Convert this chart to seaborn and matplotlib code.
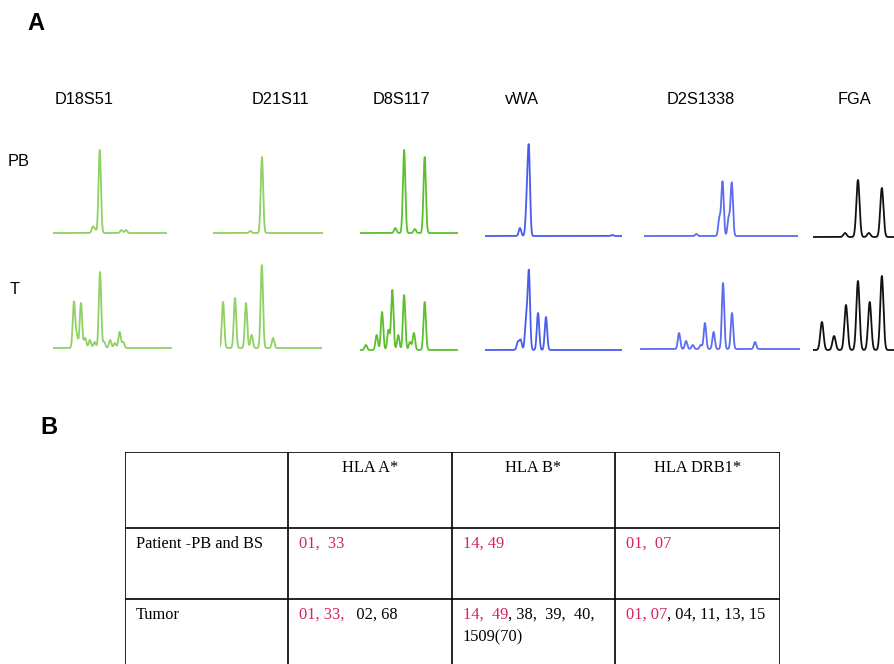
import numpy as np
import pandas as pd
import matplotlib
matplotlib.use("Agg")
import matplotlib.pyplot as plt
import seaborn as sns

# ---- data (peak position in % of trace width, height in px-like units)
LOCI = ["D18S51", "D21S11", "D8S117", "vWA", "D2S1338", "FGA"]
SAMPLES = ["PB", "T"]

d18s51_pb_pos = [35, 37, 41, 60, 64]
d18s51_pb_ht = [6, 3, 83, 3, 3]
d18s51_t_pos = [17.6, 20, 23.5, 27, 31, 35, 39.5, 43, 48, 52, 56, 59]
d18s51_t_ht = [46, 12, 45, 10, 8, 6, 76, 6, 8, 5, 16, 6]

d21s11_pb_pos = [34, 44.5]
d21s11_pb_ht = [2, 76]
d21s11_t_pos = [3, 14.7, 25.5, 31, 41, 52]
d21s11_t_ht = [46, 50, 45, 13, 83, 10]

d8s117_pb_pos = [36, 45, 56, 66]
d8s117_pb_ht = [5, 83, 4, 76]
d8s117_t_pos = [6, 17, 22.5, 29, 33, 39, 45, 51, 55, 66]
d8s117_t_ht = [5, 15, 38, 20, 60, 15, 55, 8, 17, 48]

vwa_pb_pos = [25.5, 30.5, 32, 93]
vwa_pb_ht = [8, 30, 84, 1]
vwa_t_pos = [24, 26, 30, 32, 38.7, 44.5]
vwa_t_ht = [8, 10, 30, 78, 37, 33]

d2s1338_pb_pos = [34, 49, 51, 55, 57]
d2s1338_pb_ht = [2, 18, 54, 18, 53]
d2s1338_t_pos = [24.4, 28.8, 33, 38, 40.6, 46, 51.9, 57.5, 71.9]
d2s1338_t_ht = [16, 8, 4, 4, 26, 17, 66, 36, 7]

fga_pb_pos = [39.5, 55.5, 69, 85]
fga_pb_ht = [4, 57, 4, 49]
fga_t_pos = [11, 26, 40.7, 55.5, 70, 85]
fga_t_ht = [28, 14, 45, 69, 48, 74]

PEAKS = {
    ("D18S51", "PB"): (d18s51_pb_pos, d18s51_pb_ht), ("D18S51", "T"): (d18s51_t_pos, d18s51_t_ht),
    ("D21S11", "PB"): (d21s11_pb_pos, d21s11_pb_ht), ("D21S11", "T"): (d21s11_t_pos, d21s11_t_ht),
    ("D8S117", "PB"): (d8s117_pb_pos, d8s117_pb_ht), ("D8S117", "T"): (d8s117_t_pos, d8s117_t_ht),
    ("vWA", "PB"): (vwa_pb_pos, vwa_pb_ht), ("vWA", "T"): (vwa_t_pos, vwa_t_ht),
    ("D2S1338", "PB"): (d2s1338_pb_pos, d2s1338_pb_ht), ("D2S1338", "T"): (d2s1338_t_pos, d2s1338_t_ht),
    ("FGA", "PB"): (fga_pb_pos, fga_pb_ht), ("FGA", "T"): (fga_t_pos, fga_t_ht),
}

# ---- HLA table
HLA_HEADERS = ["HLA A*", "HLA B*", "HLA DRB1*"]
ROW_LABELS = ["Patient -PB and BS", "Tumor"]
PATIENT_ALLELES = ["01,  33", "14, 49", "01,  07"]
TUMOR_SHARED = ["01, 33,", "14,  49", "01, 07"]
TUMOR_EXTRA = ["   02, 68", ", 38,  39,  40,", ", 04, 11, 13, 15"]
TUMOR_EXTRA_LINE2 = ["", "1509(70)", ""]

# ---- layout / style (pixels of the 894x664 canvas)
W, H = 894, 664
TRACE_X = {"D18S51": [(53, 167), (53, 172)], "D21S11": [(213, 323), (220, 322)],
           "D8S117": [(360, 458), (360, 458)], "vWA": [(485, 622), (485, 622)],
           "D2S1338": [(644, 798), (640, 800)], "FGA": [(813, 894), (813, 894)]}
BASELINE = {"D18S51": [233, 348], "D21S11": [233, 348], "D8S117": [233, 350],
            "vWA": [236, 350], "D2S1338": [236, 349], "FGA": [237, 350]}
SIGMA_PX = {"D18S51": 1.2, "D21S11": 1.2, "D8S117": 1.2, "vWA": 1.2, "D2S1338": 1.2, "FGA": 1.6}
COLORS = {"D18S51": "#8fd163", "D21S11": "#8fd163", "D8S117": "#5cc02e",
          "vWA": "#4a5cef", "D2S1338": "#5a6cf0", "FGA": "#111111"}
LABEL_X = {"D18S51": 55, "D21S11": 252, "D8S117": 373, "vWA": 505, "D2S1338": 667, "FGA": 838}
RED = "#d8235a"

sns.set_style("white")
plt.rcParams["font.family"] = ["Liberation Sans", "DejaVu Sans"]
plt.rcParams["text.color"] = "black"

fig = plt.figure(figsize=(W / 100, H / 100), dpi=100)


def rect(x0, y0, x1, y1):
    return [x0 / W, 1 - y1 / H, (x1 - x0) / W, (y1 - y0) / H]


def build_trace(pos, ht, sigma):
    x = np.linspace(0, 100, 1200)
    y = np.zeros_like(x)
    for p, h in zip(pos, ht):
        y += h * np.exp(-0.5 * ((x - p) / sigma) ** 2)
    return pd.DataFrame({"size": x, "rfu": y})


# panel A traces
for locus in LOCI:
    for i, sample in enumerate(SAMPLES):
        x0, x1 = TRACE_X[locus][i]
        base = BASELINE[locus][i]
        ax = fig.add_axes(rect(x0, base - 95, x1, base + 5))
        pos, ht = PEAKS[(locus, sample)]
        sigma = SIGMA_PX[locus] * 100 / (x1 - x0)
        df = build_trace(pos, ht, sigma)
        sns.lineplot(data=df, x="size", y="rfu", ax=ax, color=COLORS[locus], lw=1.3)
        ax.set_xlim(0, 100)
        ax.set_ylim(-5, 95)
        ax.axis("off")

for locus in LOCI:
    fig.text(LABEL_X[locus] / W, 1 - 99 / H, locus, fontsize=11.8, va="center", ha="left")
fig.text(8 / W, 1 - 162 / H, "PB", fontsize=11.8, va="center")
fig.text(10 / W, 1 - 289 / H, "T", fontsize=11.8, va="center")
fig.text(27 / W, 1 - 24 / H, "A", fontsize=17, fontweight="bold", va="center")
fig.text(40 / W, 1 - 427 / H, "B", fontsize=17, fontweight="bold", va="center")

# panel B table
tx0, tx1, ty0, ty1 = 125, 780, 452, 690
tax = fig.add_axes(rect(tx0, ty0, tx1, ty1))
tax.set_xlim(tx0, tx1)
tax.set_ylim(ty1, ty0)
tax.axis("off")
col_edges = [125, 288, 452, 615, 780]
row_edges = [452, 528, 599, 690]
tax.vlines(col_edges, ty0, ty1, color="black", lw=1.2)
tax.hlines(row_edges, tx0, tx1, color="black", lw=1.2)

serif = ["Liberation Serif", "DejaVu Serif"]
fs = 11.8
for j, head in enumerate(HLA_HEADERS):
    cx = (col_edges[j + 1] + col_edges[j + 2]) / 2
    tax.text(cx, 468, head, family=serif, fontsize=fs, ha="center", va="center")

tax.text(col_edges[0] + 11, 544, ROW_LABELS[0], family=serif, fontsize=fs, va="center")
tax.text(col_edges[0] + 11, 615, ROW_LABELS[1], family=serif, fontsize=fs, va="center")

for j in range(3):
    left = col_edges[j + 1] + 11
    tax.text(left, 544, PATIENT_ALLELES[j], family=serif, fontsize=fs, va="center", color=RED)
    t1 = tax.text(left, 615, TUMOR_SHARED[j], family=serif, fontsize=fs, va="center", color=RED)
    tax.annotate(TUMOR_EXTRA[j], xy=(1, 0), xycoords=t1, va="bottom", ha="left",
                 family=serif, fontsize=fs, color="black")
    if TUMOR_EXTRA_LINE2[j]:
        tax.text(left, 637, TUMOR_EXTRA_LINE2[j], family=serif, fontsize=fs, va="center",
                 color="black")

fig.savefig("out.png", dpi=100)
